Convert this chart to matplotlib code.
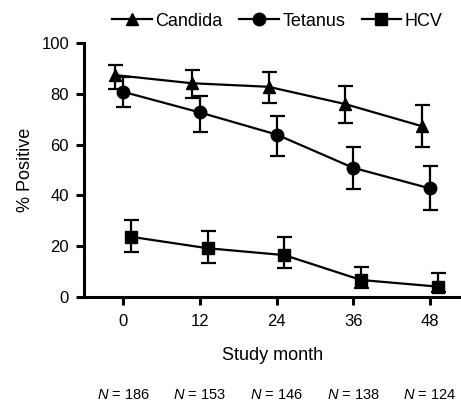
import matplotlib
matplotlib.use("Agg")
import matplotlib.pyplot as plt
import matplotlib.transforms as mtransforms
from matplotlib.lines import Line2D

plt.rcParams['font.family'] = ['Liberation Sans', 'DejaVu Sans']
plt.rcParams['mathtext.fontset'] = 'custom'
plt.rcParams['mathtext.it'] = 'Liberation Sans:italic'
plt.rcParams['mathtext.rm'] = 'Liberation Sans'

# data
months = [0, 12, 24, 36, 48]
n_counts = [186, 153, 146, 138, 124]

candida = [87.4, 84.2, 82.8, 76.0, 67.3]
candida_hi = [91.3, 89.4, 88.7, 83.1, 75.6]
candida_lo = [82.0, 78.2, 76.3, 68.6, 59.2]

tetanus = [80.8, 72.7, 64.0, 50.9, 42.8]
tetanus_hi = [86.5, 79.1, 71.4, 59.2, 51.7]
tetanus_lo = [74.8, 65.1, 55.6, 42.5, 34.3]

hcv = [23.7, 19.2, 16.5, 6.7, 4.1]
hcv_hi = [30.3, 26.0, 23.5, 11.9, 9.3]
hcv_lo = [17.8, 13.5, 11.3, 3.4, 1.8]

series = [
    ("Candida", candida, candida_lo, candida_hi, "^", 9, -1.25),
    ("Tetanus", tetanus, tetanus_lo, tetanus_hi, "o", 9, 0.0),
    ("HCV", hcv, hcv_lo, hcv_hi, "s", 8, 1.25),
]

fig = plt.figure(figsize=(4.61, 4.03), dpi=100)
ax = fig.add_axes([0.183, 0.263, 0.817, 0.630])

handles = []
for name, vals, lo, hi, mk, ms, dx in series:
    xs = [m + dx for m in months]
    yerr = [[v - l for v, l in zip(vals, lo)], [h - v for v, h in zip(vals, hi)]]
    ax.errorbar(xs, vals, yerr=yerr, color="black", marker=mk, markersize=ms,
                linewidth=1.6, elinewidth=1.6, capsize=5.4, capthick=1.6)
    handles.append(Line2D([], [], color="black", marker=mk, markersize=ms,
                          linewidth=1.6, label=name))

ax.set_xlim(-6.1, 52.9)
ax.set_ylim(0, 100)
ax.set_xticks(months)
ax.set_yticks([0, 20, 40, 60, 80, 100])
ax.spines['top'].set_visible(False)
ax.spines['right'].set_visible(False)
for s in ['left', 'bottom']:
    ax.spines[s].set_linewidth(2.2)
ax.tick_params(axis='both', width=2.2, length=6, labelsize=12)
ax.tick_params(axis='y', pad=5)
ax.tick_params(axis='x', pad=6)
ax.set_xlabel("Study month", fontsize=13, labelpad=13)
ax.set_ylabel("% Positive", fontsize=13, labelpad=5)

# sample sizes under the axis
trans = mtransforms.blended_transform_factory(ax.transData, fig.transFigure)
for m, n in zip(months, n_counts):
    ax.text(m, 1 - 395 / 403, r"$\it{N}$ = %d" % n, transform=trans,
            ha="center", va="center", fontsize=10.5)

fig.legend(handles=handles, loc="center", bbox_to_anchor=(277.5 / 461, 1 - 21 / 403),
           ncol=3, frameon=False, fontsize=13, handlelength=2.2, handletextpad=0.2,
           columnspacing=0.9, borderaxespad=0)

fig.savefig("out.png", dpi=100)
